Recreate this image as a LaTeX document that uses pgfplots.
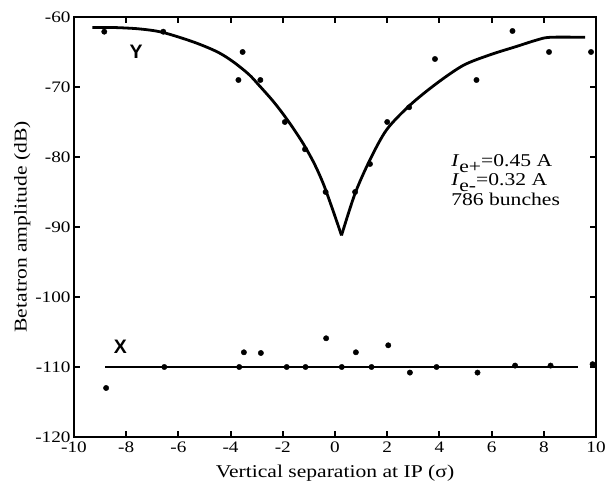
\documentclass[border=0pt]{standalone}
\usepackage{fontspec}
\setmainfont{Liberation Serif}[FakeStretch=1.2]
\newfontfamily\lblsans{Liberation Sans}
\usepackage{pgfplots}
\pgfplotsset{compat=1.18}

\begin{document}
\begin{tikzpicture}
\begin{axis}[
  name=ax,
  scale only axis,
  width=522pt, height=420pt,
  xmin=-10, xmax=10, ymin=-120, ymax=-60,
  axis line style={line width=2.6pt},
  tick style={line width=2pt, black},
  major tick length=6pt,
  tick align=inside,
  xtick={-10,-8,...,10},
  xticklabels={-10,-8,-6,-4,-2,0,2,4,6,8,10},
  ytick={-120,-110,...,-60},
  yticklabels={-120,-110,-100,-90,-80,-70,-60},
  tick label style={font=\fontsize{16}{17}\selectfont},
  xticklabel style={yshift=-1pt},
  xlabel={Vertical separation at IP (σ)},
  ylabel={Betatron amplitude (dB)},
  label style={font=\fontsize{18}{20}\selectfont},
  xlabel style={yshift=-6pt},
  ylabel style={yshift=-2pt},
  clip=false,
]
% Y fit, left branch
\addplot[black, line width=2.8pt, smooth, tension=0.5] coordinates {
  (-9.3,-61.5) (-8.5,-61.5) (-7.5,-61.7) (-6.6,-62.2) (-5.4,-63.6)
  (-4.5,-65.0) (-3.9,-66.4) (-3.3,-68.2) (-2.9,-69.8) (-2.4,-71.9)
  (-2.0,-73.8) (-1.6,-75.9) (-1.2,-78.2) (-0.8,-80.9) (-0.45,-83.8)
  (-0.1,-87.4) (0.25,-91.2)
};
% Y fit, right branch
\addplot[black, line width=2.8pt, smooth, tension=0.5] coordinates {
  (0.25,-91.2) (0.77,-85.2) (1.34,-80.4) (1.98,-76.1) (2.87,-72.6)
  (3.89,-69.5) (4.92,-66.9) (5.94,-65.4) (6.96,-64.2) (7.72,-63.3)
  (8.24,-62.9) (9.58,-62.9)
};
% X fit
\addplot[black, line width=2.8pt] coordinates {(-8.8,-110) (9.32,-110)};
% Y data
\addplot[only marks, mark=*, mark size=2.7pt, black] coordinates {
  (-8.84,-62.1) (-6.58,-62.1) (-3.54,-65.0) (-3.70,-69.0) (-2.86,-69.0)
  (-1.92,-75.0) (-1.15,-78.9) (-0.36,-85.0) (0.77,-85.0) (1.34,-81.0)
  (2.00,-75.0) (2.84,-72.9) (3.83,-66.0) (5.42,-69.0) (6.80,-62.0)
  (8.20,-65.0) (9.81,-65.0)
};
% X data
\addplot[only marks, mark=*, mark size=2.7pt, black] coordinates {
  (-8.77,-113.0) (-6.54,-110.0) (-3.67,-110.0) (-3.49,-107.9) (-2.84,-108.0)
  (-1.85,-110.0) (-1.13,-110.0) (-0.34,-105.9) (0.26,-110.0) (0.80,-107.9)
  (1.40,-110.0) (2.04,-106.9) (2.87,-110.8) (3.89,-110.0) (5.46,-110.8)
  (6.90,-109.8) (8.26,-109.8) (9.87,-109.6)
};
\node[font={\lblsans\bfseries\fontsize{19.5}{20}\selectfont}] at (axis cs:-7.62,-64.9) {Y};
\node[font={\lblsans\bfseries\fontsize{19.5}{20}\selectfont}] at (axis cs:-8.22,-107.1) {X};
\node[anchor=north west, inner sep=0pt, align=left,
      font=\fontsize{18}{19.5}\selectfont] at (axis cs:4.45,-79.6)
  {\textit{I}\raisebox{-0.7ex}{e+}=0.45 A\\
   \textit{I}\raisebox{-0.7ex}{e-}=0.32 A\\
   786 bunches};
\end{axis}
\pgfresetboundingbox
\path ([xshift=-74pt,yshift=-52pt]ax.south west) rectangle ([xshift=9pt,yshift=17pt]ax.north east);
\end{tikzpicture}
\end{document}
